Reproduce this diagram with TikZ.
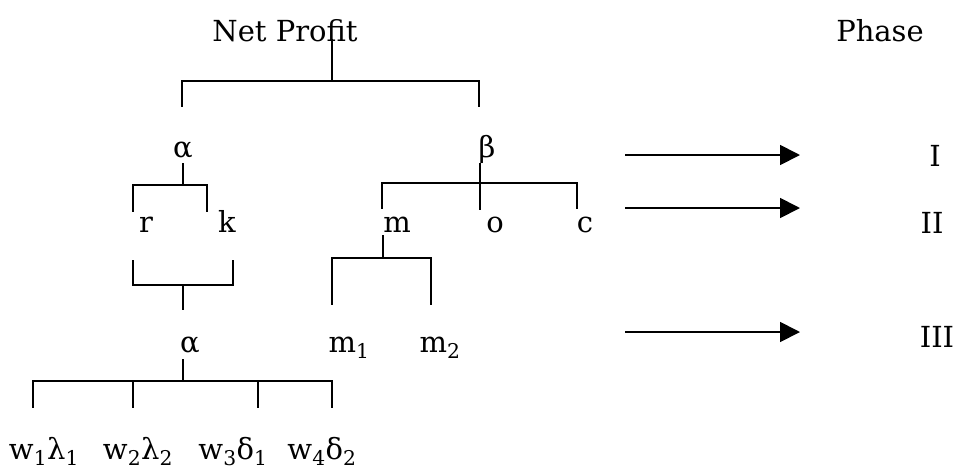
\documentclass[tikz,border=0pt]{standalone}
\usepackage{fontspec}
\setmainfont{DejaVu Serif}
\usepackage{tikz}
\usetikzlibrary{arrows.meta}

\begin{document}
\begin{tikzpicture}[x=1pt, y=-1pt,
    lbl/.style={font=\fontsize{29}{35}\selectfont, inner sep=0pt, anchor=base},
    tree/.style={line width=1.8pt},
    phasearrow/.style={line width=1.8pt, -{Triangle[length=20pt, width=20pt]}}]
    \useasboundingbox (0,0) rectangle (955,472);

    % Labels
    \node[lbl] (np) at (285,41) {Net Profit};
    \node[lbl] (phase) at (880,41) {Phase};
    \node[lbl] (a1) at (183,157) {α};
    \node[lbl] (b1) at (487,157) {β};
    \node[lbl] (r) at (146,232) {r};
    \node[lbl] (k) at (227,232) {k};
    \node[lbl] (m) at (397,232) {m};
    \node[lbl] (o) at (495,232) {o};
    \node[lbl] (c) at (585,232) {c};
    \node[lbl] (a2) at (190,352) {α};
    \node[lbl] (m1) at (349,352) {m\textsubscript{1}};
    \node[lbl] (m2) at (440,352) {m\textsubscript{2}};
    \node[lbl] (w1) at (44,459) {w\textsubscript{1}λ\textsubscript{1}};
    \node[lbl] (w2) at (138,459) {w\textsubscript{2}λ\textsubscript{2}};
    \node[lbl] (w3) at (233,459) {w\textsubscript{3}δ\textsubscript{1}};
    \node[lbl] (w4) at (322,459) {w\textsubscript{4}δ\textsubscript{2}};
    \node[lbl] (ph1) at (935,166) {I};
    \node[lbl] (ph2) at (932,233) {II};
    \node[lbl] (ph3) at (937,347) {III};

    % Net Profit -> alpha, beta
    \coordinate (npj) at (332,81);
    \draw[tree] (np.south -| npj) ++(0,-3) -- (npj);
    \draw[tree] (npj) -- ++(-150,0) -- ++(0,26);
    \draw[tree] (npj) -- ++(147,0) -- ++(0,26);

    % alpha -> r, k
    \coordinate (a1j) at (183,185);
    \draw[tree] (a1.south) ++(0,5) -- (a1j);
    \draw[tree] (a1j) -- ++(-50,0) -- ++(0,27);
    \draw[tree] (a1j) -- ++(24,0) -- ++(0,27);

    % beta -> m, o, c
    \coordinate (b1j) at (480,183);
    \draw[tree] (b1.south -| b1j) -- ++(0,47);
    \draw[tree] (b1j) -- ++(-98,0) -- ++(0,26);
    \draw[tree] (b1j) -- ++(97,0) -- ++(0,26);

    % r, k -> alpha
    \coordinate (rkj) at (183,285);
    \draw[tree] (rkj) -- ++(-50,0) -- ++(0,-25);
    \draw[tree] (rkj) -- ++(50,0) -- ++(0,-25);
    \draw[tree] (rkj) -- ++(0,25);

    % m -> m1, m2
    \coordinate (mj) at (383,258);
    \draw[tree] (m.south -| mj) ++(0,3) -- (mj);
    \draw[tree] (mj) -- ++(-51,0) -- ++(0,47);
    \draw[tree] (mj) -- ++(48,0) -- ++(0,47);

    % alpha -> w
    \coordinate (a2j) at (183,381);
    \draw[tree] (a2.south -| a2j) ++(0,6) -- (a2j);
    \draw[tree] (a2j) -- ++(-150,0) -- ++(0,27);
    \draw[tree] (a2j) -- ++(-50,0) -- ++(0,27);
    \draw[tree] (a2j) -- ++(75,0) -- ++(0,27);
    \draw[tree] (a2j) -- ++(149,0) -- ++(0,27);

    % Phase arrows
    \coordinate (s1) at (625,155);
    \coordinate (e1) at (800,155);
    \coordinate (s2) at (625,208);
    \coordinate (e2) at (800,208);
    \coordinate (s3) at (625,332);
    \coordinate (e3) at (800,332);
    \draw[phasearrow] (s1) -- (e1);
    \draw[phasearrow] (s2) -- (e2);
    \draw[phasearrow] (s3) -- (e3);
\end{tikzpicture}
\end{document}
